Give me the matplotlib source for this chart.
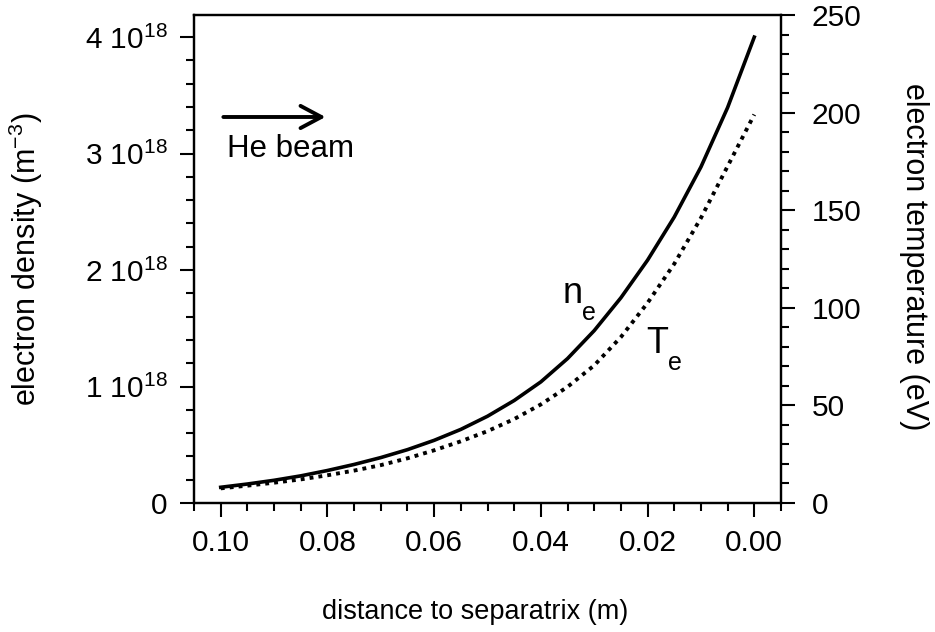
"""
Electron density and temperature profiles vs distance to the separatrix.
"""
import matplotlib
matplotlib.use("Agg")
import matplotlib.pyplot as plt
from matplotlib.ticker import MultipleLocator, FixedLocator, FuncFormatter

plt.rcParams["font.family"] = ["Liberation Sans", "DejaVu Sans"]
plt.rcParams["mathtext.fontset"] = "custom"
plt.rcParams["mathtext.rm"] = "Liberation Sans"
plt.rcParams["mathtext.it"] = "Liberation Sans:italic"

# distance to separatrix (m)
distance = [0.100, 0.095, 0.090, 0.085, 0.080, 0.075, 0.070, 0.065, 0.060, 0.055, 0.050,
            0.045, 0.040, 0.035, 0.030, 0.025, 0.020, 0.015, 0.010, 0.005, 0.000]
# electron density, units of 1e18 m^-3
ne_1e18 = [0.135, 0.163, 0.195, 0.233, 0.279, 0.331, 0.390, 0.458, 0.538, 0.632, 0.745,
           0.880, 1.040, 1.240, 1.480, 1.762, 2.085, 2.455, 2.885, 3.395, 4.000]
# electron temperature (eV)
te_ev = [7.5, 8.9, 10.4, 12.1, 14.2, 16.6, 19.4, 22.9, 27.0, 31.6, 36.8,
         43.0, 50.5, 59.5, 70.5, 85.0, 102.5, 122.5, 146.0, 172.5, 199.0]

ne_ticks = [0, 1, 2, 3, 4]
te_ticks = [0, 50, 100, 150, 200, 250]
x_ticks = [0.10, 0.08, 0.06, 0.04, 0.02, 0.00]

fig = plt.figure(figsize=(9.35, 6.32), dpi=100)
ax = fig.add_axes([194 / 935, 129 / 632, 587 / 935, 488 / 632])
ax2 = ax.twinx()

ax.plot(distance, ne_1e18, color="black", lw=2.6, solid_joinstyle="round")
ax2.plot(distance, te_ev, color="black", lw=2.8, linestyle=(0, (1, 1.3)))

ax.set_xlim(0.10501, -0.00501)
ax.set_ylim(0, 4.19)
ax2.set_ylim(0, 250)

ax.xaxis.set_major_locator(FixedLocator(x_ticks))
ax.xaxis.set_minor_locator(MultipleLocator(0.005))
ax.xaxis.set_major_formatter(FuncFormatter(lambda v, p: f"{abs(v):.2f}"))
ax.yaxis.set_major_locator(FixedLocator(ne_ticks))
ax.yaxis.set_minor_locator(MultipleLocator(0.2))
ax.yaxis.set_major_formatter(FuncFormatter(
    lambda v, p: "0" if v == 0 else rf"$\mathregular{{{int(v)}\ 10^{{18}}}}$"))
ax2.yaxis.set_major_locator(FixedLocator(te_ticks))
ax2.yaxis.set_minor_locator(MultipleLocator(10))

for a in (ax, ax2):
    for s in a.spines.values():
        s.set_linewidth(1.6)
    a.tick_params(which="major", direction="out", length=10, width=1.5, labelsize=21.5)
    a.tick_params(which="minor", direction="out", length=5.5, width=1.5)
ax.tick_params(axis="x", which="major", pad=9)
ax.tick_params(axis="y", which="major", pad=9)
ax2.tick_params(axis="y", which="major", pad=12)

ax.set_xlabel("distance to separatrix (m)", fontsize=19.5)
ax.xaxis.set_label_coords(0.479, -0.197)
ax.set_ylabel(r"electron density ($\mathregular{m^{-3}}$)", fontsize=22)
ax.yaxis.set_label_coords(-0.254, 0.5)
ax2.set_ylabel("electron temperature (eV)", fontsize=22, rotation=270, va="bottom")
ax2.yaxis.set_label_coords(1.201, 0.505)

# curve labels
ax.text(0.0359, 1.717, "n", fontsize=26, ha="left", va="baseline")
ax.text(0.0322, 1.571, "e", fontsize=18, ha="left", va="baseline")
ax.text(0.0202, 1.288, "T", fontsize=26, ha="left", va="baseline")
ax.text(0.0162, 1.142, "e", fontsize=18, ha="left", va="baseline")

ax.annotate("", xy=(0.224, 0.791), xytext=(0.050, 0.791), xycoords="axes fraction",
            arrowprops=dict(arrowstyle="->,head_length=1.5,head_width=0.8",
                            lw=2.8, color="black", shrinkA=0, shrinkB=0))
ax.text(0.056, 0.709, "He beam", transform=ax.transAxes, fontsize=22.5,
        ha="left", va="baseline")

fig.savefig("out.png", dpi=100)
